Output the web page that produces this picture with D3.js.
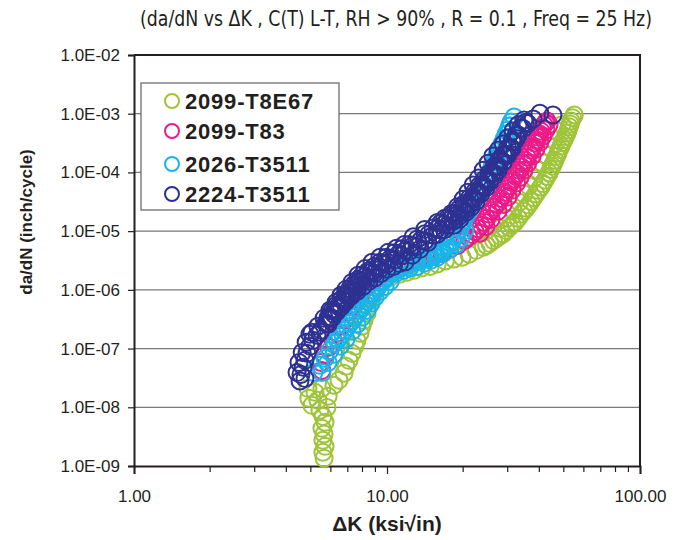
<!DOCTYPE html>
<html>
<head>
<meta charset="utf-8">
<script src="https://cdn.jsdelivr.net/npm/d3@7"></script>
<style>
  body { margin: 0; background: #fff; }
  svg { display: block; }
</style>
</head>
<body>
<svg width="681" height="540"></svg>
<script>
var width = 681;
var height = 540;

// plot box (avoid the name "top", it is window.top)
var plotLeft = 134, plotRight = 640, plotTop = 55, plotBottom = 466;

var seriesNames = ["2099-T8E67", "2099-T83", "2026-T3511", "2224-T3511"];
var seriesColors = ["#9fc43a", "#ec1a8a", "#19b5ea", "#2e3192"];

var xTickValues = [1, 10, 100];
var xTickLabels = ["1.00", "10.00", "100.00"];
var yTickValues = [1e-9, 1e-8, 1e-7, 1e-6, 1e-5, 1e-4, 1e-3, 1e-2];
var yTickLabels = ["1.0E-09", "1.0E-08", "1.0E-07", "1.0E-06", "1.0E-05", "1.0E-04", "1.0E-03", "1.0E-02"];

// 2099-T8E67
var t8e67K = [5.64, 5.58, 5.69, 5.58, 5.64, 5.53, 5.69, 5.58, 5.43, 5.79, 5.05, 4.91, 5.33, 5.85, 5.19, 5.53, 4.87,
  6.17, 6.46, 6.76, 6.88, 7.08, 7.27, 7.47, 7.61, 7.82, 7.96, 8.11, 8.34, 8.49, 8.65, 8.89, 9.13, 9.55,
  10.3, 11.2, 12.0, 12.8, 13.7, 14.8, 15.8, 17.0, 18.4, 19.8, 21.1, 22.5, 24.0, 25.5, 27.2, 28.8, 30.4,
  32.1, 33.9, 35.5, 37.1, 38.8, 40.6, 42.1, 43.7, 45.0, 46.1, 47.4, 48.7, 50.1, 51.5, 52.5, 53.4, 55.0,
  28.0, 29.8, 31.5, 33.3, 34.8, 36.4, 38.1, 39.5, 41.0, 42.5, 44.1, 45.7, 47.4, 49.2,
  24.75, 26.35, 28.0, 29.6, 31.25, 33.0, 34.7, 36.3, 37.95, 39.7, 41.35, 42.9, 44.35, 45.55, 46.75, 48.05,
  49.4, 50.8, 52.0, 52.95, 54.2];
var t8e67Rate = [1.36e-9, 1.72e-9, 2.16e-9, 2.75e-9, 3.5e-9, 4.4e-9, 5.55e-9, 7.0e-9, 8.9e-9, 9.9e-9, 1.08e-8, 1.43e-8, 1.32e-8, 1.54e-8, 1.8e-8, 2.1e-8, 2.1e-8,
  2.37e-8, 2.9e-8, 3.8e-8, 5.0e-8, 6.3e-8, 8.3e-8, 1.1e-7, 1.38e-7, 1.82e-7, 2.4e-7, 3.0e-7, 4.0e-7, 5.25e-7, 6.6e-7, 8.8e-7, 1.1e-6, 1.34e-6,
  1.63e-6, 1.85e-6, 2.0e-6, 2.15e-6, 2.35e-6, 2.5e-6, 2.75e-6, 3.1e-6, 3.35e-6, 3.6e-6, 4.05e-6, 4.7e-6, 5.3e-6, 6.2e-6, 7.6e-6, 9.0e-6, 1.15e-5,
  1.42e-5, 1.95e-5, 2.45e-5, 3.2e-5, 4.3e-5, 5.65e-5, 7.4e-5, 9.8e-5, 1.28e-4, 1.62e-4, 2.15e-4, 2.8e-4, 3.6e-4, 4.7e-4, 6.0e-4, 7.5e-4, 9.5e-4,
  1.12e-5, 1.65e-5, 2.27e-5, 3.1e-5, 4.3e-5, 5.85e-5, 7.9e-5, 1.09e-4, 1.47e-4, 1.98e-4, 2.7e-4, 3.6e-4, 5.1e-4, 6.5e-4,
  5.7e-6, 6.9e-6, 8.3e-6, 1.02e-5, 1.28e-5, 1.66e-5, 2.2e-5, 2.8e-5, 3.7e-5, 4.95e-5, 6.45e-5, 8.5e-5, 1.12e-4, 1.44e-4, 1.87e-4, 2.45e-4,
  3.2e-4, 4.1e-4, 5.3e-4, 6.7e-4, 8.5e-4];

// 2099-T83
var t83K = [5.53, 5.48, 5.68, 5.89, 6.12, 6.34, 6.57, 6.82, 7.08, 7.33, 7.6, 7.89, 8.26, 8.64, 9.12, 9.65, 10.3,
  11.5, 12.3, 13.3, 14.3, 15.3, 16.5, 17.7, 19.0, 20.3, 21.7, 22.9, 24.2, 25.3, 26.5, 27.7, 28.8, 29.8,
  30.9, 32.1, 33.3, 34.5, 35.8, 37.1, 38.5, 39.5, 40.6, 41.7, 42.9,
  23.3, 24.6, 25.8, 27.5, 28.8, 30.1, 31.2, 32.5, 33.6, 34.8, 36.0, 37.5, 38.8, 40.2, 41.3, 42.5, 43.7,
  21.0, 22.3, 23.55, 24.75, 25.9, 27.1, 28.25, 29.3, 30.35, 31.5, 32.7, 33.9, 35.15, 36.45, 37.8, 39.0,
  40.05, 41.15, 42.3];
var t83Rate = [4.25e-8, 5.8e-8, 7.7e-8, 1.05e-7, 1.38e-7, 1.82e-7, 2.4e-7, 3.1e-7, 4.15e-7, 5.2e-7, 6.6e-7, 8.4e-7, 1.07e-6, 1.3e-6, 1.57e-6, 1.9e-6, 2.25e-6,
  2.5e-6, 2.85e-6, 3.1e-6, 3.5e-6, 3.75e-6, 4.2e-6, 4.9e-6, 5.7e-6, 7.0e-6, 8.8e-6, 1.1e-5, 1.42e-5, 1.95e-5, 2.55e-5, 3.2e-5, 4.1e-5, 5.2e-5,
  6.85e-5, 8.65e-5, 1.09e-4, 1.43e-4, 1.83e-4, 2.4e-4, 3.15e-4, 4.0e-4, 5.05e-4, 6.5e-4, 7.5e-4,
  9.2e-6, 1.2e-5, 1.6e-5, 2.2e-5, 2.85e-5, 3.8e-5, 5.0e-5, 6.6e-5, 8.3e-5, 1.09e-4, 1.43e-4, 1.9e-4, 2.5e-4, 3.25e-4, 4.15e-4, 5.3e-4, 6.5e-4,
  7.85e-6, 9.8e-6, 1.25e-5, 1.66e-5, 2.23e-5, 2.85e-5, 3.6e-5, 4.6e-5, 5.95e-5, 7.7e-5, 9.7e-5, 1.25e-4, 1.62e-4, 2.1e-4, 2.75e-4, 3.55e-4,
  4.5e-4, 5.7e-4, 7.0e-4];

// 2026-T3511
var t2026K = [5.14, 5.43, 5.69, 5.95, 6.23, 6.52, 6.82, 7.14, 7.47, 7.82, 8.19, 8.49, 8.81, 9.13, 9.47, 9.91, 10.4,
  11.0, 11.6, 12.3, 13.1, 14.0, 14.8, 15.6, 16.5, 17.4, 18.2, 19.0, 19.8, 20.5, 21.3, 22.1, 23.1, 24.1,
  24.8, 25.7, 26.5, 27.2, 28.2, 29.1, 30.1, 30.9, 31.8,
  5.53, 5.85, 6.17, 6.52, 6.88, 7.27, 7.61, 7.96, 8.34, 8.65, 8.97, 9.38, 9.82, 10.3, 10.9, 11.6, 12.3,
  13.1, 14.0, 14.9, 15.8, 16.7, 17.7, 18.8, 19.6, 20.3, 20.1, 20.9, 21.7, 22.7, 23.5, 24.4, 25.3, 26.2,
  27.0, 27.7, 28.8, 29.6, 30.6,
  6.37, 6.67, 6.98, 7.3, 7.64, 8.0, 8.34, 8.65, 8.97, 9.3, 9.69, 10.15, 10.7, 11.3, 11.95, 12.7, 13.55,
  14.4, 15.2, 16.05, 16.95, 17.8, 18.6, 19.4, 20.15, 20.9, 21.7, 22.6, 23.6, 24.45, 25.25, 26.1, 26.85,
  27.7, 28.65, 29.6, 30.5];
var t2026Rate = [3.9e-8, 5.2e-8, 6.8e-8, 9.3e-8, 1.23e-7, 1.6e-7, 2.05e-7, 2.7e-7, 3.4e-7, 4.5e-7, 5.7e-7, 7.2e-7, 8.8e-7, 1.07e-6, 1.3e-6, 1.57e-6, 1.9e-6,
  2.25e-6, 2.5e-6, 2.75e-6, 3.0e-6, 3.35e-6, 3.6e-6, 4.05e-6, 4.7e-6, 5.7e-6, 7.0e-6, 9.0e-6, 1.32e-5, 1.8e-5, 2.45e-5, 3.35e-5, 4.6e-5, 6.1e-5,
  8.3e-5, 1.09e-4, 1.5e-4, 1.98e-4, 2.8e-4, 3.8e-4, 5.3e-4, 7.2e-4, 8.8e-4,
  3.9e-8, 5.8e-8, 8.0e-8, 1.1e-7, 1.44e-7, 1.97e-7, 2.6e-7, 3.4e-7, 4.5e-7, 5.9e-7, 7.5e-7, 9.4e-7, 1.14e-6, 1.4e-6, 1.95e-6, 2.15e-6, 2.35e-6,
  2.5e-6, 2.85e-6, 3.2e-6, 3.6e-6, 4.2e-6, 4.9e-6, 6.0e-6, 7.6e-6, 1.03e-5, 1.53e-5, 2.1e-5, 2.85e-5, 3.95e-5, 5.2e-5, 7.1e-5, 9.4e-5, 1.28e-4,
  1.68e-4, 2.3e-4, 3.25e-4, 4.5e-4, 6.2e-4,
  1.4e-7, 1.8e-7, 2.35e-7, 3.0e-7, 3.9e-7, 5.05e-7, 6.4e-7, 8.0e-7, 9.7e-7, 1.18e-6, 1.43e-6, 1.73e-6, 2.07e-6, 2.37e-6, 2.62e-6, 2.87e-6, 3.17e-6,
  3.47e-6, 3.82e-6, 4.35e-6, 5.2e-6, 6.3e-6, 7.9e-6, 1.09e-5, 1.54e-5, 2.1e-5, 2.87e-5, 3.9e-5, 5.3e-5, 7.1e-5, 9.5e-5, 1.28e-4, 1.72e-4,
  2.35e-4, 3.25e-4, 4.5e-4, 6.2e-4];

// 2224-T3511
var t2224K = [4.53, 4.57, 4.66, 4.74, 4.83, 4.96, 5.09, 5.29, 5.48, 5.74, 5.95, 6.17, 6.46, 6.76, 6.94, 7.27, 7.54,
  7.82, 8.19, 8.65, 9.13, 9.64, 10.3, 11.1, 11.8, 12.7, 13.6, 14.6, 15.8, 16.8, 17.9, 18.8, 19.8, 20.7,
  21.7, 22.7, 23.7, 24.8, 26.0, 27.2, 28.2, 29.3, 30.6, 31.8, 33.0, 34.5, 36.0, 37.8, 40.2, 45.3,
  4.41, 4.49, 4.62, 4.79, 4.96, 4.74,
  5.05, 5.33, 5.64, 5.95, 6.29, 6.58, 6.88, 7.27, 7.68, 8.19, 8.73, 9.38, 10.1, 10.9, 11.7, 12.7, 14.1,
  15.8, 16.9, 18.0, 19.0, 20.0, 20.9, 21.9, 23.0, 24.0, 25.1, 26.2, 27.5, 28.8, 30.1, 31.5, 33.0, 34.8,
  5.43, 5.79, 6.17, 6.52, 6.88, 7.21, 7.61, 8.04, 8.49, 8.97, 9.47, 10.0, 10.6, 11.2, 11.8, 12.6, 13.5,
  14.5, 15.8, 16.9, 18.4, 19.4, 20.5, 21.5, 22.5, 23.5, 24.6, 25.5, 26.5, 27.5, 28.8, 29.8, 30.9, 32.5,
  5.85, 6.06, 6.31, 6.61, 6.85, 7.1, 7.4, 7.68, 8.0, 8.42, 8.89, 9.38, 9.96, 10.7, 11.45, 12.25, 13.15,
  14.1, 15.2, 16.3, 17.35, 18.35, 19.3, 20.25, 21.2, 22.2, 23.2, 24.25, 25.4, 26.6, 27.7, 28.75, 29.95,
  31.2, 32.4, 33.75, 35.2,
  5.85, 6.06, 6.31, 6.61, 6.85, 7.1, 7.4, 7.68, 8.0, 8.42, 8.89, 9.38, 9.96, 10.7, 11.45, 12.25, 13.15,
  14.1, 15.2, 16.3, 17.35, 18.35, 19.3, 20.25, 21.2, 22.2, 23.2, 24.25, 25.4, 26.6, 27.7, 28.75, 29.95, 31.2];
var t2224Rate = [2.8e-8, 3.6e-8, 4.8e-8, 6.3e-8, 8.3e-8, 1.1e-7, 1.38e-7, 1.68e-7, 2.05e-7, 2.7e-7, 3.4e-7, 4.3e-7, 5.45e-7, 6.6e-7, 8.1e-7, 9.8e-7, 1.19e-6,
  1.45e-6, 1.7e-6, 2.0e-6, 2.35e-6, 2.85e-6, 3.4e-6, 4.05e-6, 4.7e-6, 5.7e-6, 7.0e-6, 8.8e-6, 1.1e-5, 1.3e-5, 1.6e-5, 1.86e-5, 2.35e-5, 2.85e-5,
  3.6e-5, 4.6e-5, 5.9e-5, 7.4e-5, 9.6e-5, 1.27e-4, 1.62e-4, 1.98e-4, 2.6e-4, 3.3e-4, 4.35e-4, 5.6e-4, 6.8e-4, 8.1e-4, 1.02e-3, 9.5e-4,
  3.9e-8, 5.8e-8, 8.6e-8, 1.28e-7, 1.75e-7, 3.1e-8,
  1.9e-7, 2.4e-7, 3.3e-7, 4.5e-7, 6.1e-7, 8.1e-7, 1.02e-6, 1.34e-6, 1.77e-6, 2.3e-6, 2.95e-6, 3.6e-6, 4.35e-6, 5.1e-6, 5.9e-6, 8.0e-6, 1.07e-5,
  1.4e-5, 1.65e-5, 2.0e-5, 2.6e-5, 3.5e-5, 4.6e-5, 6.1e-5, 8.0e-5, 1.09e-4, 1.43e-4, 1.9e-4, 2.4e-4, 3.05e-4, 3.9e-4, 5.1e-4, 6.5e-4, 7.8e-4,
  1.9e-7, 2.7e-7, 3.85e-7, 5.0e-7, 6.35e-7, 7.8e-7, 9.4e-7, 1.14e-6, 1.4e-6, 1.6e-6, 1.9e-6, 2.25e-6, 2.5e-6, 2.8e-6, 3.0e-6, 3.9e-6, 4.9e-6,
  6.4e-6, 8.8e-6, 1.07e-5, 1.26e-5, 1.6e-5, 2.1e-5, 2.55e-5, 3.2e-5, 4.3e-5, 5.45e-5, 6.85e-5, 8.65e-5, 1.09e-4, 1.5e-4, 1.98e-4, 2.6e-4, 3.75e-4,
  3.4e-7, 4.4e-7, 5.5e-7, 6.9e-7, 8.4e-7, 1.02e-6, 1.23e-6, 1.5e-6, 1.8e-6, 2.1e-6, 2.5e-6, 2.95e-6, 3.6e-6, 4.3e-6, 5.0e-6, 5.9e-6, 7.3e-6,
  9.0e-6, 1.13e-5, 1.38e-5, 1.65e-5, 1.98e-5, 2.4e-5, 2.95e-5, 3.7e-5, 4.7e-5, 6.0e-5, 7.6e-5, 9.7e-5, 1.27e-4, 1.65e-4, 2.0e-4, 2.6e-4,
  3.4e-4, 4.4e-4, 5.7e-4, 7.1e-4,
  2.6e-7, 3.3e-7, 4.2e-7, 5.2e-7, 6.4e-7, 7.7e-7, 9.3e-7, 1.13e-6, 1.37e-6, 1.6e-6, 1.9e-6, 2.25e-6, 2.7e-6, 3.2e-6, 3.8e-6, 4.5e-6, 5.5e-6,
  6.8e-6, 8.5e-6, 1.04e-5, 1.25e-5, 1.5e-5, 1.8e-5, 2.25e-5, 2.8e-5, 3.55e-5, 4.5e-5, 5.7e-5, 7.3e-5, 9.6e-5, 1.25e-4, 1.5e-4, 1.95e-4, 2.55e-4];

var seriesK = [t8e67K, t83K, t2026K, t2224K];
var seriesRate = [t8e67Rate, t83Rate, t2026Rate, t2224Rate];

var svg = d3.select("svg");

var x = d3.scaleLog().domain([1, 100]).range([plotLeft, plotRight]);
var y = d3.scaleLog().domain([1e-9, 1e-2]).range([plotBottom, plotTop]);

// Title
svg.append("text")
    .attr("x", 396)
    .attr("y", 26)
    .attr("text-anchor", "middle")
    .attr("font-family", "'DejaVu Sans Condensed', 'Liberation Sans Narrow', 'Liberation Sans', sans-serif")
    .attr("font-stretch", "condensed")
    .attr("font-size", 21)
    .attr("fill", "#231f20")
    .attr("textLength", 512)
    .attr("lengthAdjust", "spacingAndGlyphs")
    .text("(da/dN vs \u0394K , C(T) L-T, RH > 90% , R = 0.1 , Freq = 25 Hz)");

// Gridlines
svg.append("g")
    .selectAll("line")
    .data(yTickValues.slice(1, -1))
    .enter().append("line")
    .attr("x1", plotLeft)
    .attr("x2", plotRight)
    .attr("y1", function(d) { return y(d); })
    .attr("y2", function(d) { return y(d); })
    .attr("stroke", "#7a7a7a")
    .attr("stroke-width", 1.2);

// Left axis
var yAxis = d3.axisLeft(y)
    .tickValues(yTickValues)
    .tickFormat(function(d, i) { return yTickLabels[i]; })
    .tickSize(6)
    .tickPadding(8);

var gy = svg.append("g")
    .attr("transform", "translate(" + plotLeft + ",0)")
    .call(yAxis);
gy.select(".domain").attr("stroke", "#231f20").attr("stroke-width", 2);
gy.selectAll(".tick line").attr("stroke", "#231f20").attr("stroke-width", 1.2);
gy.selectAll(".tick text")
    .attr("font-family", "'Liberation Sans', Arial, sans-serif")
    .attr("font-size", 17)
    .attr("fill", "#231f20");

// Bottom axis, minor ticks
var minorTicks = [];
[1, 10].forEach(function(dec) {
    for (var m = 2; m <= 9; m++) minorTicks.push(dec * m);
});

svg.append("g")
    .selectAll("line")
    .data(minorTicks)
    .enter().append("line")
    .attr("x1", function(d) { return x(d); })
    .attr("x2", function(d) { return x(d); })
    .attr("y1", plotBottom)
    .attr("y2", plotBottom + 6)
    .attr("stroke", "#231f20")
    .attr("stroke-width", 1.2);

var xAxis = d3.axisBottom(x)
    .tickValues(xTickValues)
    .tickFormat(function(d, i) { return xTickLabels[i]; })
    .tickSize(8)
    .tickPadding(16);

var gx = svg.append("g")
    .attr("transform", "translate(0," + plotBottom + ")")
    .call(xAxis);
gx.select(".domain").attr("stroke", "#231f20").attr("stroke-width", 2);
gx.selectAll(".tick line").attr("stroke", "#231f20").attr("stroke-width", 1.2);
gx.selectAll(".tick text")
    .attr("font-family", "'Liberation Sans', Arial, sans-serif")
    .attr("font-size", 17)
    .attr("fill", "#231f20");

// Top and right border
svg.append("path")
    .attr("d", "M" + plotLeft + "," + plotTop + "H" + plotRight + "V" + plotBottom)
    .attr("fill", "none")
    .attr("stroke", "#231f20")
    .attr("stroke-width", 2);

// Points
svg.append("g")
    .selectAll("g")
    .data(seriesNames)
    .enter().append("g")
    .attr("stroke", function(d, i) { return seriesColors[i]; })
    .attr("fill", "none")
    .attr("stroke-width", 2)
    .selectAll("circle")
    .data(function(d, i) {
        return seriesK[i].map(function(k, j) { return [k, seriesRate[i][j]]; });
    })
    .enter().append("circle")
    .attr("cx", function(d) { return x(d[0]); })
    .attr("cy", function(d) { return y(d[1]); })
    .attr("r", 8.5);

// Axis titles
svg.append("text")
    .attr("x", 387)
    .attr("y", 531)
    .attr("text-anchor", "middle")
    .attr("font-family", "'Liberation Sans', Arial, sans-serif")
    .attr("font-weight", "bold")
    .attr("font-size", 21)
    .attr("fill", "#231f20")
    .text("\u0394K (ksi\u221Ain)");

svg.append("text")
    .attr("transform", "translate(32,222) rotate(-90)")
    .attr("text-anchor", "middle")
    .attr("font-family", "'Liberation Sans', Arial, sans-serif")
    .attr("font-weight", "bold")
    .attr("font-size", 17)
    .attr("fill", "#231f20")
    .text("da/dN (inch/cycle)");

// Legend
var legend = svg.append("g");
legend.append("rect")
    .attr("x", 141)
    .attr("y", 83)
    .attr("width", 198)
    .attr("height", 127)
    .attr("fill", "#fff")
    .attr("stroke", "#6d6d6d")
    .attr("stroke-width", 1.3);

var rows = legend.selectAll("g.row")
    .data(seriesNames)
    .enter().append("g")
    .attr("class", "row")
    .attr("transform", function(d, i) { return "translate(0," + [101, 131, 164, 194][i] + ")"; });

rows.append("circle")
    .attr("cx", 172)
    .attr("cy", 0)
    .attr("r", 7)
    .attr("fill", "none")
    .attr("stroke-width", 2)
    .attr("stroke", function(d, i) { return seriesColors[i]; });

rows.append("text")
    .attr("x", 185)
    .attr("y", 8)
    .attr("font-family", "'Liberation Sans', Arial, sans-serif")
    .attr("font-weight", "bold")
    .attr("font-size", 22)
    .attr("letter-spacing", 0.8)
    .attr("fill", "#231f20")
    .text(function(d) { return d; });
</script>
</body>
</html>
